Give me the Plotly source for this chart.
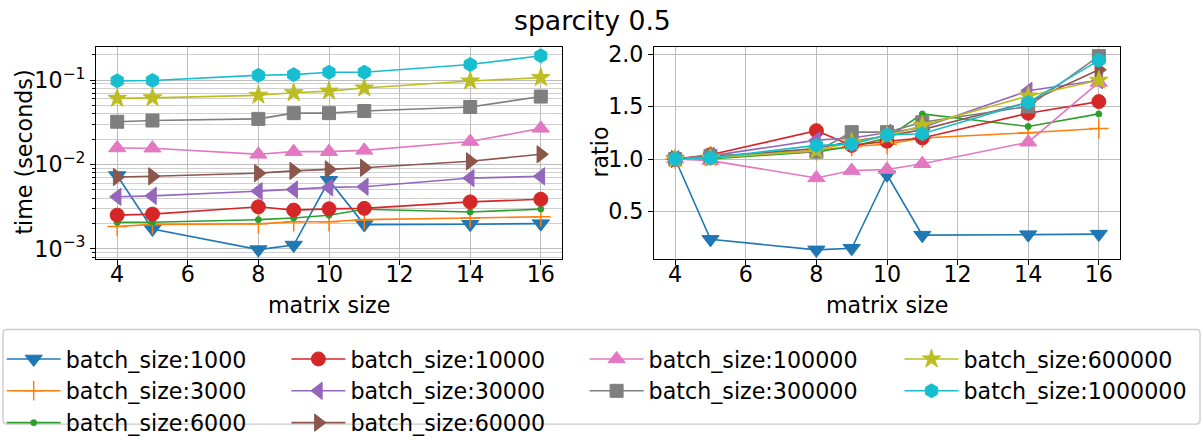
import plotly.graph_objects as go

W, H = 1203, 444
FONT = "DejaVu Sans"
FS = 22.2

sizes = [4, 5, 8, 9, 10, 11, 14, 16]

labels = ["batch_size:1000", "batch_size:3000", "batch_size:6000",
          "batch_size:10000", "batch_size:30000", "batch_size:60000",
          "batch_size:100000", "batch_size:300000", "batch_size:600000",
          "batch_size:1000000"]

colors = ["#1f77b4", "#ff7f0e", "#2ca02c", "#d62728", "#9467bd",
          "#8c564b", "#e377c2", "#7f7f7f", "#bcbd22", "#17becf"]

# time (seconds)
t_1000 = [0.0074, 0.00172, 0.00098, 0.00111, 0.0065, 0.00194, 0.00196, 0.00199]
t_3000 = [0.00184, 0.00195, 0.00198, 0.0021, 0.0021, 0.00222, 0.00232, 0.0024]
t_6000 = [0.00206, 0.00207, 0.00222, 0.00232, 0.0025, 0.00295, 0.00273, 0.00296]
t_10000 = [0.00251, 0.00258, 0.00315, 0.00288, 0.00298, 0.00302, 0.0036, 0.00388]
t_30000 = [0.00414, 0.00425, 0.00483, 0.00505, 0.00535, 0.00545, 0.0069, 0.00724]
t_60000 = [0.0071, 0.00724, 0.00789, 0.0084, 0.00875, 0.00914, 0.0109, 0.0132]
t_100000 = [0.0157, 0.0156, 0.0132, 0.0142, 0.0142, 0.0147, 0.0187, 0.0268]
t_300000 = [0.0321, 0.0332, 0.0347, 0.0406, 0.0406, 0.043, 0.048, 0.0638]
t_600000 = [0.0607, 0.0616, 0.066, 0.0708, 0.074, 0.0805, 0.0975, 0.107]
t_1000000 = [0.098, 0.099, 0.114, 0.116, 0.124, 0.124, 0.153, 0.194]

# ratio
r_1000 = [1.0, 0.235, 0.135, 0.15, 0.85, 0.275, 0.28, 0.285]
r_3000 = [1.0, 1.03, 1.08, 1.12, 1.14, 1.2, 1.25, 1.29]
r_6000 = [1.0, 1.0, 1.07, 1.12, 1.2, 1.43, 1.31, 1.43]
r_10000 = [1.0, 1.04, 1.27, 1.13, 1.17, 1.2, 1.436, 1.547]
r_30000 = [1.0, 1.03, 1.18, 1.2, 1.25, 1.3, 1.65, 1.75]
r_60000 = [1.0, 1.02, 1.1, 1.17, 1.22, 1.28, 1.54, 1.85]
r_100000 = [1.0, 0.985, 0.82, 0.89, 0.9, 0.955, 1.16, 1.73]
r_300000 = [1.0, 1.03, 1.07, 1.256, 1.256, 1.35, 1.5, 1.98]
r_600000 = [1.0, 1.01, 1.08, 1.16, 1.22, 1.32, 1.6, 1.75]
r_1000000 = [1.0, 1.01, 1.13, 1.14, 1.23, 1.24, 1.54, 1.94]

times = [t_1000, t_3000, t_6000, t_10000, t_30000, t_60000,
         t_100000, t_300000, t_600000, t_1000000]
ratios = [r_1000, r_3000, r_6000, r_10000, r_30000, r_60000,
          r_100000, r_300000, r_600000, r_1000000]

# tick labels
x_ticks = [4, 6, 8, 10, 12, 14, 16]
time_ticks = [0.001, 0.01, 0.1]
time_tick_text = ["10<sup>\u22123</sup>", "10<sup>\u22122</sup>", "10<sup>\u22121</sup>"]
ratio_ticks = [0.5, 1.0, 1.5, 2.0]

symbols = ["triangle-down", "cross-thin", "circle", "circle", "triangle-left",
           "triangle-right", "triangle-up", "square", "star", "hexagon"]
msizes = [15, 14, 6, 14, 15, 15, 15, 13, 14, 14]
legend_of = ["legend", "legend", "legend", "legend2", "legend2", "legend2",
             "legend3", "legend3", "legend4", "legend4"]


def px_x(p):
    return p / W


def px_y(p):
    return 1 - p / H


fig = go.Figure()
for i in range(len(labels)):
    c = colors[i]
    if symbols[i] == "cross-thin":
        mk = dict(symbol="cross-thin", size=msizes[i], color=c,
                  line=dict(color=c, width=1.5))
    else:
        mk = dict(symbol=symbols[i], size=msizes[i], color=c,
                  line=dict(color=c, width=1))
    fig.add_trace(go.Scatter(
        x=sizes, y=times[i], mode="lines+markers", name=labels[i],
        line=dict(color=c, width=1.6), marker=mk,
        legendgroup=labels[i], legend=legend_of[i], showlegend=True,
        xaxis="x", yaxis="y"))
    fig.add_trace(go.Scatter(
        x=sizes, y=ratios[i], mode="lines+markers", name=labels[i],
        line=dict(color=c, width=1.6), marker=mk,
        legendgroup=labels[i], legend=legend_of[i], showlegend=False,
        xaxis="x2", yaxis="y2"))

axis_common = dict(
    showline=True, mirror=True, linecolor="black", linewidth=1.1,
    ticks="outside", ticklen=5, tickwidth=1.1, tickcolor="black",
    showgrid=True, gridcolor="#bdbdbd", gridwidth=1.2, zeroline=False,
    tickfont=dict(family=FONT, size=FS, color="black"),
)

minor_vals = [m * 10 ** e for e in range(-5, 1) for m in range(2, 10)]

fig.update_layout(
    width=W, height=H,
    margin=dict(l=0, r=0, t=0, b=0),
    paper_bgcolor="white", plot_bgcolor="white",
    font=dict(family=FONT, size=FS, color="black"),
    xaxis=dict(domain=[px_x(96), px_x(562)], range=[3.4, 16.6],
               tickmode="array", tickvals=x_ticks, anchor="y",
               ticklabelstandoff=-9, **axis_common),
    yaxis=dict(domain=[px_y(267), px_y(43)], type="log",
               range=[-3.115, -0.604], tickmode="array",
               tickvals=time_ticks, ticktext=time_tick_text,
               anchor="x",
               minor=dict(tickmode="array", tickvals=minor_vals, ticks="outside",
                          ticklen=3, tickwidth=0.9, tickcolor="black",
                          showgrid=True, gridcolor="#cfcfcf", gridwidth=1.1),
               **axis_common),
    xaxis2=dict(domain=[px_x(654), px_x(1120)], range=[3.4, 16.6],
                tickmode="array", tickvals=x_ticks, anchor="y2",
                ticklabelstandoff=-9, **axis_common),
    yaxis2=dict(domain=[px_y(267), px_y(43)], range=[0.052, 2.07],
                tickmode="array", tickvals=ratio_ticks,
                tickformat=".1f", anchor="x2", **axis_common),
)

leg_common = dict(orientation="v", xanchor="left", yanchor="top",
                  y=px_y(351), bgcolor="rgba(0,0,0,0)", borderwidth=0,
                  font=dict(family=FONT, size=FS, color="black"),
                  itemwidth=54, traceorder="grouped", tracegroupgap=0)
fig.update_layout(
    legend=dict(x=px_x(1.7), **leg_common),
    legend2=dict(x=px_x(286.4), **leg_common),
    legend3=dict(x=px_x(584.6), **leg_common),
    legend4=dict(x=px_x(899.5), **leg_common),
)

# legend frame with rounded corners
x0, x1 = px_x(3), px_x(1200)
y0, y1 = px_y(442), px_y(342)
rx, ry = 4 / W, 4 / H
path = (f"M{x0+rx},{y0} L{x1-rx},{y0} Q{x1},{y0} {x1},{y0+ry} "
        f"L{x1},{y1-ry} Q{x1},{y1} {x1-rx},{y1} L{x0+rx},{y1} "
        f"Q{x0},{y1} {x0},{y1-ry} L{x0},{y0+ry} Q{x0},{y0} {x0+rx},{y0} Z")
fig.add_shape(type="path", path=path, xref="paper", yref="paper",
              line=dict(color="#cccccc", width=1.4), fillcolor="white",
              layer="below")

ann = [
    dict(text="sparcity 0.5", x=px_x(592), y=px_y(15), size=26.7),
    dict(text="matrix size", x=px_x(329), y=px_y(316), size=FS),
    dict(text="matrix size", x=px_x(887), y=px_y(316), size=FS),
]
for a in ann:
    fig.add_annotation(text=a["text"], x=a["x"], y=a["y"], xref="paper",
                       yref="paper", xanchor="center", yanchor="middle",
                       showarrow=False,
                       font=dict(family=FONT, size=a["size"], color="black"))
for txt, xp in [("time (seconds)", 24), ("ratio", 600)]:
    fig.add_annotation(text=txt, x=px_x(xp), y=px_y(155), xref="paper",
                       yref="paper", xanchor="center", yanchor="middle",
                       textangle=-90, showarrow=False,
                       font=dict(family=FONT, size=FS, color="black"))

fig.write_html("out.html")
